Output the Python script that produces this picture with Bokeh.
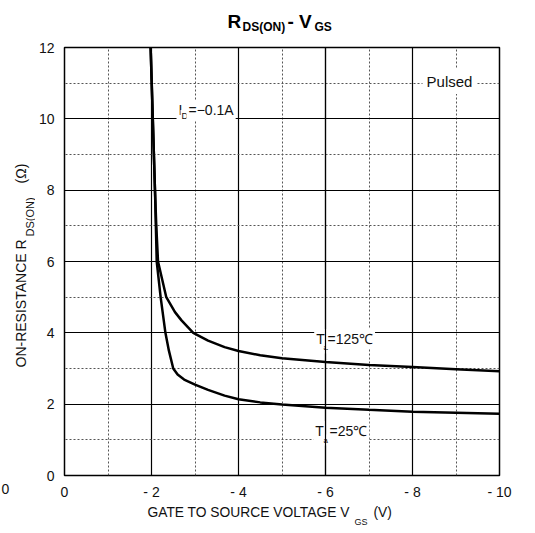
import math
from bokeh.plotting import figure
from bokeh.layouts import column, row
from bokeh.models import Range1d, FixedTicker, Label, Span
from bokeh.core.properties import value
from bokeh.embed import file_html
from bokeh.resources import INLINE

# ---- data ----
vgs_25 = [-1.98, -2.03, -2.08, -2.10, -2.12, -2.21, -2.32, -2.40, -2.50, -2.60, -2.75,
          -3.0, -3.3, -3.68, -4.0, -4.5, -5.0, -6.0, -7.0, -8.0, -9.0, -10.0]
r_25 = [12.0, 10.0, 8.0, 7.0, 6.0, 5.0, 4.0, 3.5, 3.0, 2.83, 2.69,
        2.55, 2.40, 2.24, 2.14, 2.05, 1.99, 1.90, 1.84, 1.79, 1.76, 1.73]

vgs_125 = [-1.98, -2.03, -2.08, -2.11, -2.15, -2.34, -2.54, -2.69, -2.96, -3.3, -3.68,
           -4.0, -4.5, -5.0, -6.0, -7.0, -8.0, -9.0, -10.0]
r_125 = [12.0, 10.0, 8.0, 7.0, 6.0, 5.0, 4.58, 4.35, 4.0, 3.78, 3.60,
         3.49, 3.37, 3.29, 3.18, 3.10, 3.04, 2.98, 2.92]

x_major = [0, -2, -4, -6, -8, -10]
x_minor = [-1, -3, -5, -7, -9]
x_labels = ["0", "- 2", "- 4", "- 6", "- 8", "- 10"]
y_major = [0, 2, 4, 6, 8, 10, 12]
y_minor = [1, 3, 5, 7, 9, 11]
y_labels = ["0", "2", "4", "6", "8", "10", "12"]
edge_tick = [3]
edge_label = ["0"]   # partly visible "0" at the very left edge of the reference

FONT = "Liberation Sans"
TXT = "#111111"

TOP_B, BOT_B = 9, 28

# ---------------- main chart ----------------
p = figure(frame_width=435, frame_height=428, x_range=Range1d(0, -10), y_range=Range1d(0, 12),
           output_backend="svg", toolbar_location=None,
           min_border_left=28, min_border_right=37, min_border_top=TOP_B, min_border_bottom=BOT_B)
p.background_fill_color = "white"
p.border_fill_color = "white"
p.outline_line_color = "black"
p.outline_line_width = 1.5

xt = FixedTicker(ticks=x_major, minor_ticks=x_minor)
yt = FixedTicker(ticks=y_major, minor_ticks=y_minor)
p.xaxis.ticker = xt
p.yaxis.ticker = yt
p.xgrid.ticker = xt
p.ygrid.ticker = yt
p.xaxis.major_label_overrides = {v: s for v, s in zip(x_major, x_labels)}
p.yaxis.major_label_overrides = {v: s for v, s in zip(y_major, y_labels)}


def style_axis(ax, standoff):
    ax.axis_line_color = None
    ax.major_tick_line_color = None
    ax.minor_tick_line_color = None
    ax.major_tick_out = 0
    ax.minor_tick_out = 0
    ax.major_tick_in = 0
    ax.minor_tick_in = 0
    ax.major_label_text_font = FONT
    ax.major_label_text_font_size = "14px"
    ax.major_label_text_color = TXT
    ax.major_label_standoff = standoff


style_axis(p.xaxis, 8)
style_axis(p.yaxis, 10)
p.xaxis.major_label_text_align = "left"

for g in (p.xgrid, p.ygrid):
    g.grid_line_color = "black"
    g.grid_line_width = 1.2
    g.minor_grid_line_color = "#555555"
    g.minor_grid_line_width = 1
    g.minor_grid_line_dash = "2 2"

p.line(vgs_125, r_125, line_color="black", line_width=2.5)
p.line(vgs_25, r_25, line_color="black", line_width=2.5)


def dlabel(x, y, text, size, **kw):
    opts = dict(x=x, y=y, text=text, text_font=FONT, text_font_size=size,
                text_color=TXT, text_align="left", text_baseline="middle",
                background_fill_color="white", padding=2)
    opts.update(kw)
    p.add_layout(Label(**opts))


dlabel(-8.85, 11.05, "Pulsed", "15px", text_align="center", padding=4)
dlabel(-2.575, 10.25, "I", "14px")
dlabel(-2.667, 10.08, "D", "9px", padding=1)
dlabel(-2.805, 10.25, "=\u22120.1A", "14px")

dlabel(-5.74, 3.83, "T", "14px")
dlabel(-5.931, 3.575, "a", "8px", padding=1)
dlabel(-6.0, 3.83, "=125\u2103", "14px")

dlabel(-5.72, 1.25, "T", "14px")
dlabel(-5.931, 0.995, "a", "8px", padding=1)
dlabel(-6.046, 1.25, "=25\u2103", "14px")

# the -6 V line runs over the temperature labels in the reference
p.add_layout(Span(location=-6, dimension="height", line_color="black", line_width=1.2))


# ---------------- helper text panels (pixel coordinates, y downwards) ----------------
def text_panel(w, h, x_rng, y_rng, xaxis=False, tb=0, bb=0):
    f = figure(width=w, height=h, x_range=Range1d(*x_rng), y_range=Range1d(*y_rng),
               output_backend="svg", toolbar_location=None,
               x_axis_location="below" if xaxis else None, y_axis_location=None,
               min_border=0, min_border_left=0, min_border_right=0,
               min_border_top=tb, min_border_bottom=bb)
    f.grid.visible = False
    f.outline_line_color = None
    f.background_fill_color = "white"
    f.border_fill_color = "white"
    return f


def put(f, x, y, s, size, bold=False, angle=0.0, color=TXT):
    f.text(x=[x], y=[y], text=[s], text_font=value(FONT), text_font_size=value(size),
           text_font_style="bold" if bold else "normal", text_color=color,
           text_align="left", text_baseline="middle", angle=angle)


title_fig = text_panel(535, 38, (0, 535), (38, 0))
put(title_fig, 227, 20.5, "R", "19px", bold=True, color="black")
put(title_fig, 242, 26, "DS(ON)", "12px", bold=True, color="black")
put(title_fig, 287, 20.5, "- V", "19px", bold=True, color="black")
put(title_fig, 314, 26, "GS", "12px", bold=True, color="black")

# left panel: frame is aligned with the main frame (canvas y 47..475)
ylab_fig = text_panel(35, 428 + TOP_B + BOT_B, (0, 35), (475, 47), xaxis=True, tb=TOP_B, bb=BOT_B)
ylab_fig.xaxis.ticker = FixedTicker(ticks=edge_tick)
ylab_fig.xaxis.major_label_overrides = {v: s for v, s in zip(edge_tick, edge_label)}
style_axis(ylab_fig.xaxis, 8)
ylab_fig.xaxis.major_label_text_align = "right"
put(ylab_fig, 20, 367, "ON-RESISTANCE R", "14px", angle=math.pi / 2)
put(ylab_fig, 29.5, 236, "DS(ON)", "11px", angle=math.pi / 2)
put(ylab_fig, 20, 183, "(\u03a9)", "14px", angle=math.pi / 2)

xlab_h = 533 - 38 - (428 + TOP_B + BOT_B)
xlab_fig = text_panel(535, xlab_h, (0, 535), (533, 533 - xlab_h))
put(xlab_fig, 147, 512, "GATE TO SOURCE VOLTAGE V", "13.8px")
put(xlab_fig, 354, 521, "GS", "9px")
put(xlab_fig, 373, 512, "(V)", "13.8px")

layout = column(title_fig, row(ylab_fig, p), xlab_fig)

open("out.html", "w").write(file_html(layout, INLINE))
